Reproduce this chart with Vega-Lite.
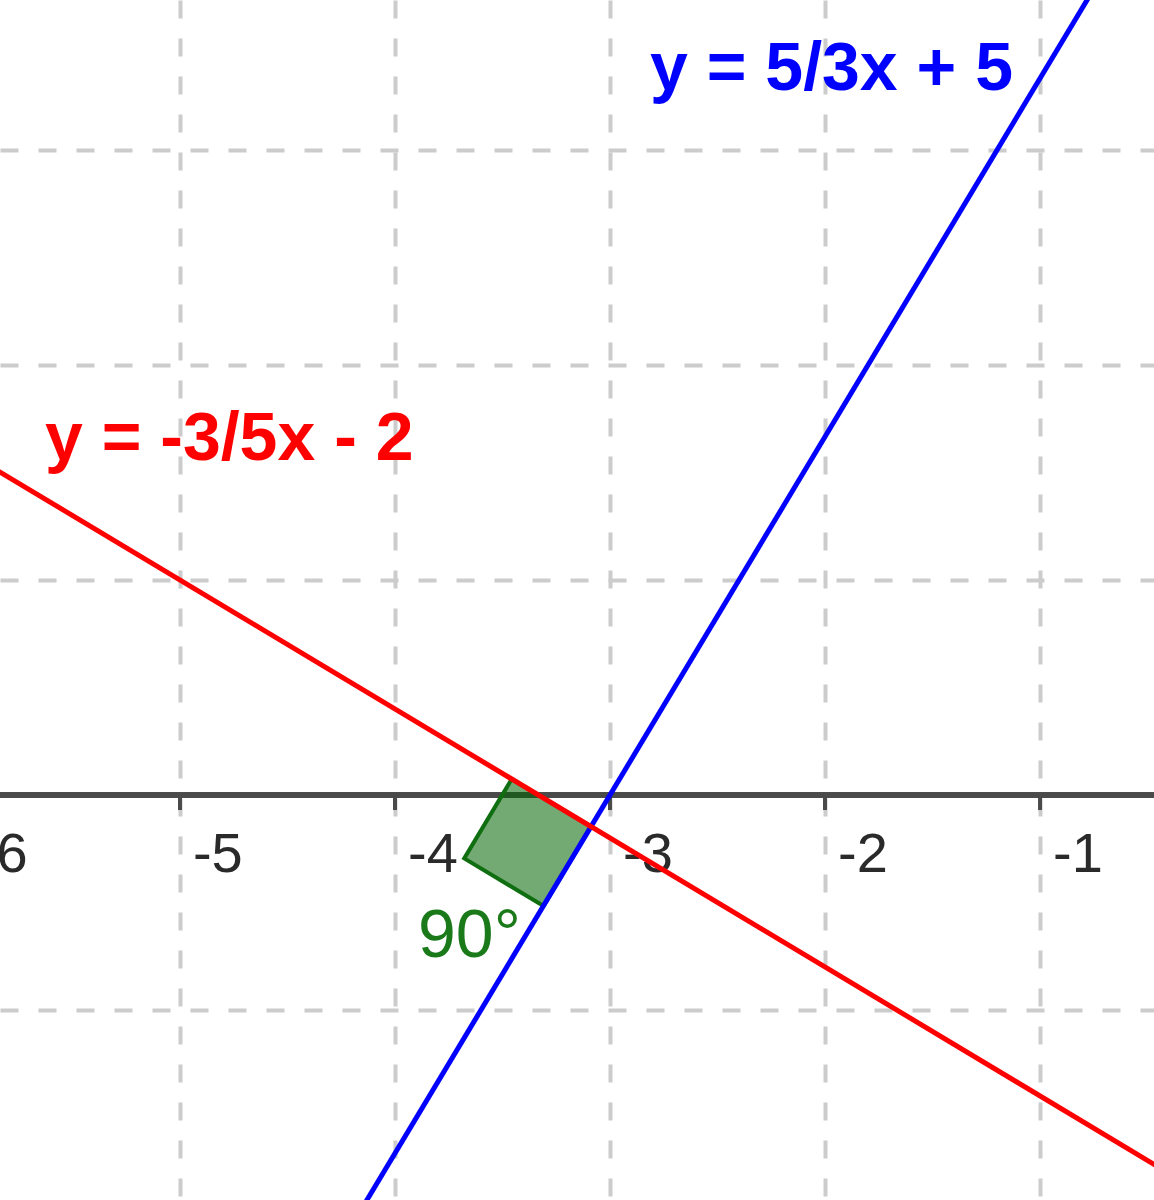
{
  "$schema": "https://vega.github.io/schema/vega-lite/v6.json",
  "autosize": {"type": "none"},
  "width": 1154,
  "height": 1200,
  "padding": 0,
  "background": "white",
  "config": {"view": {"stroke": null}},
  "datasets": {
    "ticks": [
      {"x": -6, "label": "-6"},
      {"x": -5, "label": "-5"},
      {"x": -4, "label": "-4"},
      {"x": -3, "label": "-3"},
      {"x": -2, "label": "-2"},
      {"x": -1, "label": "-1"}
    ],
    "lines": [
      {"eq": "blue", "x": -4.5, "y": -2.5},
      {"eq": "blue", "x": -0.5, "y": 4.1667},
      {"eq": "red", "x": -6.0, "y": 1.6},
      {"eq": "red", "x": 0.0, "y": -2.0}
    ],
    "square": [
      {"i": 0, "x": -3.088, "y": -0.147},
      {"i": 1, "x": -3.457, "y": 0.074},
      {"i": 2, "x": -3.678, "y": -0.295},
      {"i": 3, "x": -3.309, "y": -0.516},
      {"i": 4, "x": -3.088, "y": -0.147}
    ],
    "labels": [
      {"text": "y = 5/3x + 5", "x": -2.814, "y": 3.279, "kind": "blue"},
      {"text": "y = -3/5x - 2", "x": -5.628, "y": 1.558, "kind": "red"}
    ],
    "angle": [
      {"text": "90°", "x": -3.893, "y": -0.753}
    ]
  },
  "data": {"name": "ticks"},
  "layer": [
    {
      "mark": {"type": "rule", "opacity": 0, "clip": true},
      "encoding": {
        "x": {
          "field": "x", "type": "quantitative",
          "scale": {"domain": [-5.837, -0.47], "nice": false, "zero": false},
          "axis": {"grid": true, "values": [-5, -4, -3, -2, -1], "gridDash": [18, 20], "gridColor": "#cccccc", "gridWidth": 4, "gridOpacity": 1, "labels": false, "ticks": false, "domain": false, "title": null}
        },
        "y": {
          "datum": 0, "type": "quantitative",
          "scale": {"domain": [-1.884, 3.698], "nice": false, "zero": false},
          "axis": {"grid": true, "values": [-1, 0, 1, 2, 3], "gridDash": [18, 20], "gridColor": "#cccccc", "gridWidth": 4, "gridOpacity": 1, "labels": false, "ticks": false, "domain": false, "title": null}
        }
      }
    },
    {
      "mark": {"type": "rule", "color": "#4a4a4a", "strokeWidth": 5, "clip": true},
      "encoding": {"y": {"datum": 0, "type": "quantitative"}}
    },
    {
      "mark": {"type": "rule", "color": "#4a4a4a", "strokeWidth": 4, "clip": true},
      "encoding": {
        "x": {"field": "x", "type": "quantitative"},
        "y": {"datum": 0, "type": "quantitative"},
        "y2": {"datum": -0.07}
      }
    },
    {
      "mark": {"type": "text", "align": "left", "baseline": "alphabetic", "dx": 13, "dy": 77, "fontSize": 56, "font": "Liberation Sans", "color": "#2a2a2a", "clip": true},
      "encoding": {
        "x": {"field": "x", "type": "quantitative"},
        "y": {"datum": 0, "type": "quantitative"},
        "text": {"field": "label"}
      }
    },
    {
      "data": {"name": "square"},
      "mark": {"type": "line", "fill": "#006400", "fillOpacity": 0.55, "stroke": "#0f6e0f", "strokeWidth": 4, "strokeJoin": "miter"},
      "encoding": {
        "x": {"field": "x", "type": "quantitative"},
        "y": {"field": "y", "type": "quantitative"},
        "order": {"field": "i"}
      }
    },
    {
      "data": {"name": "lines"},
      "mark": {"type": "line", "strokeWidth": 5, "clip": true},
      "encoding": {
        "x": {"field": "x", "type": "quantitative"},
        "y": {"field": "y", "type": "quantitative"},
        "detail": {"field": "eq"},
        "color": {"field": "eq", "type": "nominal", "scale": {"domain": ["blue", "red"], "range": ["#0000ff", "#ff0000"]}, "legend": null}
      }
    },
    {
      "data": {"name": "labels"},
      "mark": {"type": "text", "align": "left", "baseline": "alphabetic", "fontSize": 68, "fontWeight": "bold", "font": "Liberation Sans"},
      "encoding": {
        "x": {"field": "x", "type": "quantitative"},
        "y": {"field": "y", "type": "quantitative"},
        "text": {"field": "text"},
        "color": {"field": "kind", "type": "nominal", "scale": {"domain": ["blue", "red"], "range": ["#0000ff", "#ff0000"]}, "legend": null}
      }
    },
    {
      "data": {"name": "angle"},
      "mark": {"type": "text", "align": "left", "baseline": "alphabetic", "fontSize": 68, "font": "Liberation Sans", "color": "#1a7a1a"},
      "encoding": {
        "x": {"field": "x", "type": "quantitative"},
        "y": {"field": "y", "type": "quantitative"},
        "text": {"field": "text"}
      }
    }
  ]
}
